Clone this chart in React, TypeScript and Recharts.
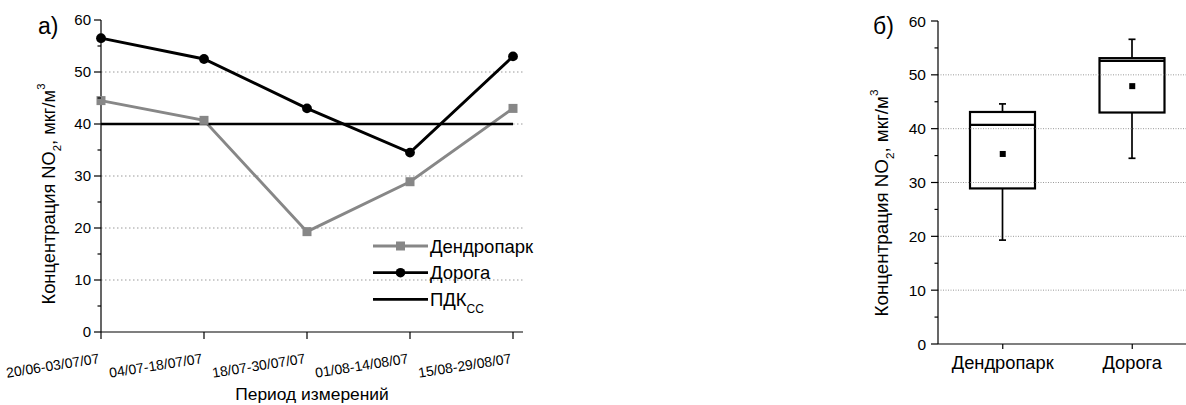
import React from 'react';
import {
  LineChart, Line, XAxis, YAxis, ReferenceLine, Legend,
  ComposedChart, Bar, Scatter,
} from 'recharts';

const periods = ['20/06-03/07/07', '04/07-18/07/07', '18/07-30/07/07', '01/08-14/08/07', '15/08-29/08/07'];
const dendropark = [44.5, 40.7, 19.3, 28.9, 43.0];
const doroga = [56.5, 52.5, 43.0, 34.5, 53.0];
const pdk = [40, 40, 40, 40, 40];

const yTicks = [0, 5, 10, 15, 20, 25, 30, 35, 40, 45, 50, 55, 60];
const gridValues = [10, 20, 30, 40, 50];

const boxCategories = ['Дендропарк', 'Дорога'];
const boxMin = [19.3, 34.5];
const boxQ1 = [28.9, 43.0];
const boxMedian = [40.7, 52.6];
const boxQ3 = [43.1, 53.1];
const boxMax = [44.6, 56.6];
const boxMean = [35.3, 47.9];

const FONT = '"Liberation Sans", Arial, Helvetica, sans-serif';
const GRAY = '#878787';

const lineData = periods.map((p, i) => ({
  period: p,
  dendropark: dendropark[i],
  doroga: doroga[i],
  pdk: pdk[i],
}));

const boxData = boxCategories.map((c, i) => ({
  name: c,
  min: boxMin[i],
  q1: boxQ1[i],
  median: boxMedian[i],
  q3: boxQ3[i],
  max: boxMax[i],
  mean: boxMean[i],
}));

const makeYTick = (labelGap: number, fontSize: number) => (props: any) => {
  const { x, y, payload } = props;
  const v = payload.value;
  const major = v % 10 === 0;
  return (
    <g>
      <line x1={x - (major ? 7 : 3.5)} x2={x} y1={y} y2={y} stroke="#000" strokeWidth={1.2} />
      {major && (
        <text x={x - labelGap} y={y} dy="0.36em" textAnchor="end" fontSize={fontSize} fontFamily={FONT} fill="#000">
          {v}
        </text>
      )}
    </g>
  );
};

const LeftXTick = (props: any) => {
  const { x, y, payload } = props;
  const tx = x - 1;
  const ty = y + 31;
  return (
    <g>
      <line x1={x} x2={x} y1={y} y2={y + 7} stroke="#000" strokeWidth={1.2} />
      <text x={tx} y={ty} textAnchor="end" fontSize={14} fontFamily={FONT} fill="#000"
        transform={`rotate(-9, ${tx}, ${ty})`}>
        {payload.value}
      </text>
    </g>
  );
};

const RightXTick = (props: any) => {
  const { x, y, payload } = props;
  return (
    <g>
      <line x1={x} x2={x} y1={y} y2={y + 5} stroke="#000" strokeWidth={1.2} />
      <text x={x} y={y + 25} textAnchor="middle" fontSize={18.3} fontFamily={FONT} fill="#000">
        {payload.value}
      </text>
    </g>
  );
};

const YLabel = (cx: number, cy: number, fontSize: number) => (
  <text x={cx} y={cy} textAnchor="middle" fontSize={fontSize} fontFamily={FONT} fill="#000"
    transform={`rotate(-90, ${cx}, ${cy})`}>
    <tspan>Концентрация NO</tspan>
    <tspan fontSize={fontSize * 0.62} dy={6}>2</tspan>
    <tspan dy={-6}>, мкг/м</tspan>
    <tspan fontSize={fontSize * 0.62} dy={-10}>3</tspan>
  </text>
);

const SquareDot = (props: any) => {
  const { cx, cy, index } = props;
  if (cx == null || cy == null) return <g key={`sq-${index}`} />;
  return <rect key={`sq-${index}`} x={cx - 4.5} y={cy - 4.5} width={9} height={9} fill={GRAY} />;
};

const LegendContent = () => {
  const rows = [
    { label: 'Дендропарк', color: GRAY, marker: 'square' },
    { label: 'Дорога', color: '#000', marker: 'circle' },
    { label: 'ПДК', color: '#000', marker: 'none', sub: 'СС' },
  ];
  return (
    <svg width={190} height={90} style={{ overflow: 'visible' }}>
      {rows.map((r, i) => {
        const y = 12 + i * 26.7;
        return (
          <g key={r.label}>
            <line x1={0} x2={55} y1={y} y2={y} stroke={r.color} strokeWidth={r.marker === 'none' ? 2.6 : 2.8} />
            {r.marker === 'square' && <rect x={23} y={y - 4.5} width={9} height={9} fill={r.color} />}
            {r.marker === 'circle' && <circle cx={27.5} cy={y} r={4.8} fill={r.color} />}
            <text x={57} y={y} dy="0.36em" fontSize={18.5} fontFamily={FONT} fill="#000">
              {r.label}
              {r.sub && <tspan fontSize={12} dy={7}>{r.sub}</tspan>}
            </text>
          </g>
        );
      })}
    </svg>
  );
};

const BoxShape = (props: any) => {
  const { x, y, width, height, payload } = props;
  if (x == null || payload == null) return <g />;
  const { min, max, q1, q3, median } = payload;
  const yOf = (v: number) => y + (height * (max - v)) / (max - min);
  const cx = x + width / 2;
  const capHalf = 3.5;
  return (
    <g>
      <line x1={cx} x2={cx} y1={yOf(max)} y2={yOf(q3)} stroke="#000" strokeWidth={1.7} />
      <line x1={cx} x2={cx} y1={yOf(q1)} y2={yOf(min)} stroke="#000" strokeWidth={1.7} />
      <line x1={cx - capHalf} x2={cx + capHalf} y1={yOf(max)} y2={yOf(max)} stroke="#000" strokeWidth={1.7} />
      <line x1={cx - capHalf} x2={cx + capHalf} y1={yOf(min)} y2={yOf(min)} stroke="#000" strokeWidth={1.7} />
      <rect x={x} y={yOf(q3)} width={width} height={yOf(q1) - yOf(q3)} fill="#fff" stroke="#000" strokeWidth={2.2} />
      <line x1={x} x2={x + width} y1={yOf(median)} y2={yOf(median)} stroke="#000" strokeWidth={2.2} />
    </g>
  );
};

const MeanSquare = (props: any) => {
  const { cx, cy } = props;
  if (cx == null || cy == null) return <g />;
  return <rect x={cx - 3} y={cy - 3} width={6} height={6} fill="#000" />;
};

export default function App() {
  return (
    <div style={{ position: 'absolute', left: 0, top: 0, width: 1186, height: 405, background: '#fff', overflow: 'hidden' }}>
      {/* Panel a */}
      <div style={{ position: 'absolute', left: 0, top: 0 }}>
        <LineChart width={560} height={405} data={lineData} margin={{ top: 20, right: 37, bottom: 0, left: 0 }}>
          {gridValues.map((v) => (
            <ReferenceLine key={`ga-${v}`} y={v} stroke="#9a9a9a" strokeWidth={1} strokeDasharray="1.5 2.5" ifOverflow="visible" />
          ))}
          <XAxis dataKey="period" scale="point" padding={{ left: 0, right: 10 }} height={73}
            axisLine={{ stroke: '#000', strokeWidth: 1.2 }} tickLine={false} tickSize={0} tickMargin={0}
            tick={<LeftXTick />} interval={0}
            label={{
              content: (p: any) => {
                const vb = p.viewBox || {};
                return (
                  <text x={vb.x + vb.width / 2} y={399.5} textAnchor="middle" fontSize={17.4} fontFamily={FONT} fill="#000">
                    Период измерений
                  </text>
                );
              },
            }}
          />
          <YAxis domain={[0, 60]} ticks={yTicks} width={101} interval={0}
            axisLine={{ stroke: '#000', strokeWidth: 1.2 }} tickLine={false} tickSize={0} tickMargin={0}
            tick={makeYTick(10, 15)}
            label={{ content: () => YLabel(55, 194, 18.3) }}
          />
          <Legend layout="vertical" align="center" verticalAlign="middle" content={<LegendContent />}
            wrapperStyle={{ position: 'absolute', left: 373, top: 234, width: 190, height: 90 }} />
          <Line dataKey="dendropark" stroke={GRAY} strokeWidth={2.9} dot={SquareDot} activeDot={false} isAnimationActive={false} />
          <Line dataKey="doroga" stroke="#000" strokeWidth={2.9} dot={{ r: 4.9, fill: '#000', stroke: '#000', strokeWidth: 0 }} activeDot={false} isAnimationActive={false} />
          <Line dataKey="pdk" stroke="#000" strokeWidth={2.3} dot={false} activeDot={false} isAnimationActive={false} />
        </LineChart>
        <div style={{ position: 'absolute', left: 38, top: 12, fontSize: 23, fontFamily: FONT, lineHeight: '28px' }}>а)</div>
      </div>

      {/* Panel b */}
      <div style={{ position: 'absolute', left: 820, top: 0, width: 366, height: 405, overflow: 'hidden' }}>
        <ComposedChart width={377} height={405} data={boxData} margin={{ top: 21, right: 0, bottom: 0, left: 0 }} barCategoryGap={0}>
          {gridValues.map((v) => (
            <ReferenceLine key={`gb-${v}`} y={v} stroke="#9a9a9a" strokeWidth={1} strokeDasharray="1 1.5" ifOverflow="visible" />
          ))}
          <XAxis dataKey="name" height={61} interval={0}
            axisLine={{ stroke: '#000', strokeWidth: 1.2 }} tickLine={false} tickSize={0} tickMargin={0}
            tick={<RightXTick />} />
          <YAxis domain={[0, 60]} ticks={yTicks} width={118} interval={0}
            axisLine={{ stroke: '#000', strokeWidth: 1.2 }} tickLine={false} tickSize={0} tickMargin={0}
            tick={makeYTick(12, 15.5)}
            label={{ content: () => YLabel(68, 203, 18.8) }}
          />
          <Bar dataKey={(d: any) => [d.min, d.max]} barSize={65} shape={<BoxShape />} isAnimationActive={false} />
          <Scatter dataKey="mean" shape={<MeanSquare />} isAnimationActive={false} />
        </ComposedChart>
        <div style={{ position: 'absolute', left: 53, top: 12, fontSize: 23, fontFamily: FONT, lineHeight: '28px' }}>б)</div>
      </div>
    </div>
  );
}
